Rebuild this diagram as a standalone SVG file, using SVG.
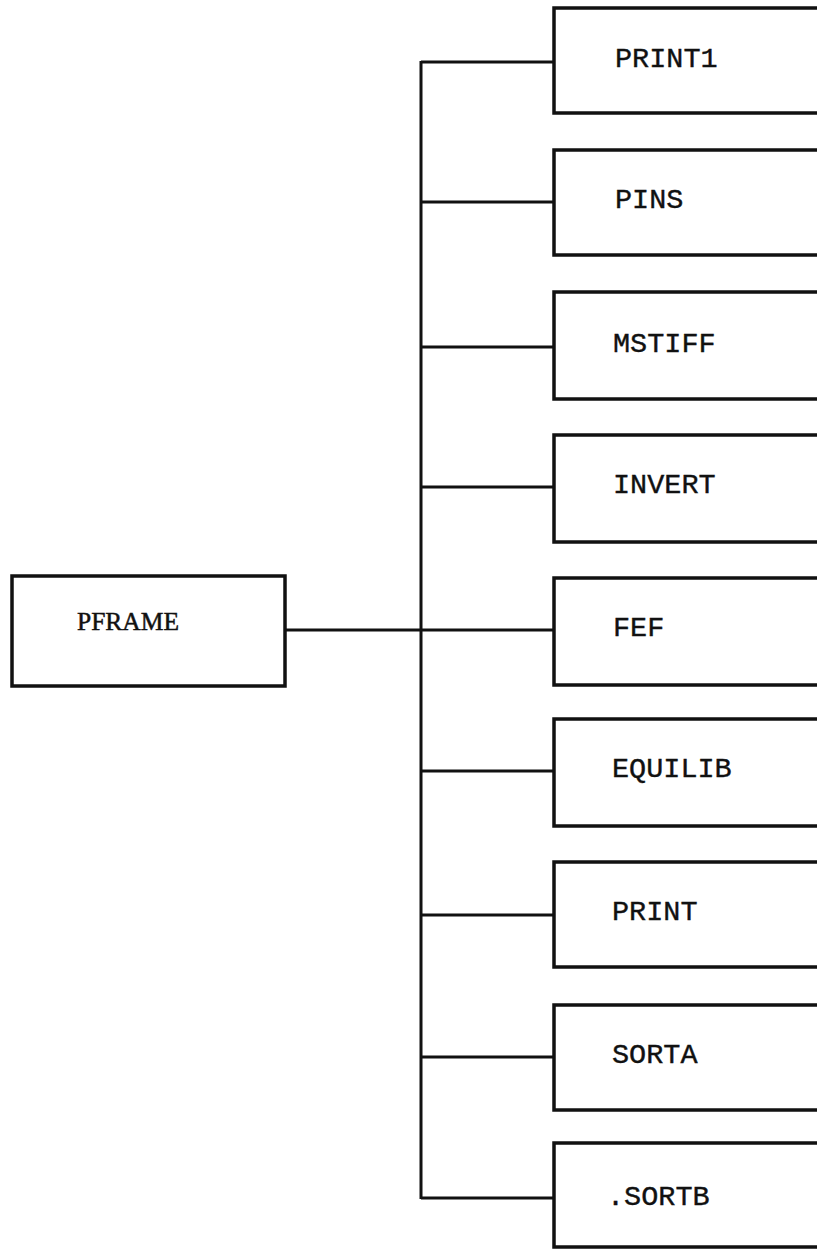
<svg xmlns="http://www.w3.org/2000/svg" width="817" height="1249" viewBox="0 0 817 1249">
<style>
.box{fill:#fff;stroke:#111;stroke-width:3.5}
.conn{fill:none;stroke:#111;stroke-width:3}
.lbl{font-family:"Liberation Mono","Courier New",monospace;font-size:28.5px;fill:#111;stroke:#111;stroke-width:0.4}
.root{font-family:"Liberation Serif","Times New Roman",serif;font-size:25.5px;fill:#111;stroke:#111;stroke-width:0.5}
</style>
<rect width="817" height="1249" fill="#fff"/>
<g id="connectors">
<line class="conn" x1="421" y1="61" x2="421" y2="1199"/>
<line class="conn" x1="285" y1="630" x2="554" y2="630"/>
<line class="conn" x1="421" y1="62" x2="554" y2="62"/>
<line class="conn" x1="421" y1="202" x2="554" y2="202"/>
<line class="conn" x1="421" y1="347" x2="554" y2="347"/>
<line class="conn" x1="421" y1="487" x2="554" y2="487"/>
<line class="conn" x1="421" y1="771" x2="554" y2="771"/>
<line class="conn" x1="421" y1="915" x2="554" y2="915"/>
<line class="conn" x1="421" y1="1057" x2="554" y2="1057"/>
<line class="conn" x1="421" y1="1198" x2="554" y2="1198"/>
</g>
<g id="PFRAME"><rect class="box" x="12" y="576" width="273" height="110"/><text class="root" x="77" y="630">PFRAME</text></g>
<g id="PRINT1"><rect class="box" x="554" y="8" width="300" height="105"/><text class="lbl" x="615" y="67">PRINT1</text></g>
<g id="PINS"><rect class="box" x="554" y="150" width="300" height="105"/><text class="lbl" x="615" y="208">PINS</text></g>
<g id="MSTIFF"><rect class="box" x="554" y="292" width="300" height="107"/><text class="lbl" x="613" y="352">MSTIFF</text></g>
<g id="INVERT"><rect class="box" x="554" y="435" width="300" height="107"/><text class="lbl" x="613" y="493">INVERT</text></g>
<g id="FEF"><rect class="box" x="554" y="578" width="300" height="107"/><text class="lbl" x="613" y="636">FEF</text></g>
<g id="EQUILIB"><rect class="box" x="554" y="719" width="300" height="107"/><text class="lbl" x="612" y="777">EQUILIB</text></g>
<g id="PRINT"><rect class="box" x="554" y="862" width="300" height="105"/><text class="lbl" x="612" y="920">PRINT</text></g>
<g id="SORTA"><rect class="box" x="554" y="1005" width="300" height="105"/><text class="lbl" x="612" y="1063">SORTA</text></g>
<g id="SORTB"><rect class="box" x="554" y="1143" width="300" height="104"/><text class="lbl" x="607" y="1205">.SORTB</text></g>
</svg>
